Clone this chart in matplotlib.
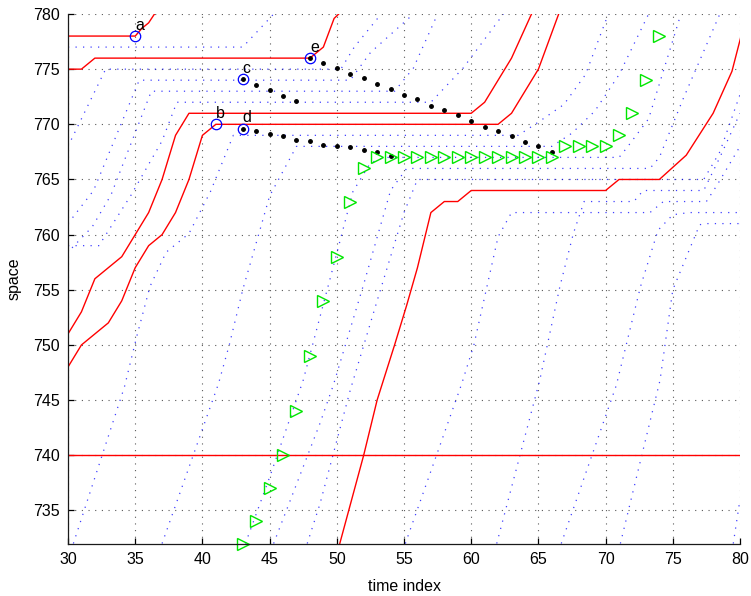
import matplotlib
matplotlib.use('Agg')
import matplotlib.pyplot as plt

plt.rcParams['font.family'] = ['Liberation Sans', 'DejaVu Sans']
plt.rcParams['font.size'] = 11.5

# ---- red trajectories (time, space) ----
red_a_t = [30, 35, 35.5, 36, 36.6]
red_a_s = [778, 778, 778.7, 779.2, 780.3]
red_e_t = [30, 31, 32, 48, 49, 49.8, 50.4]
red_e_s = [775, 775, 776, 776, 777, 779.6, 780.3]
red_b1_t = [30, 31, 32, 34, 36, 37, 38, 39, 60, 61, 63, 64.6]
red_b1_s = [751, 753, 756, 758, 762, 765, 769, 771, 771, 772, 776, 780.3]
red_b2_t = [30, 31, 33, 34, 35, 36, 37, 38, 39, 40, 41, 62, 63, 65, 66.6]
red_b2_s = [748, 750, 752, 754, 757, 759, 760, 762, 765, 769, 770, 770, 771, 775, 780.3]
red_low_t = [50.0, 52, 53, 54.3, 55.2, 56, 57, 58, 59, 60, 70, 71, 74, 76, 78, 79.4, 80.1]
red_low_s = [731, 740, 745, 750, 753.6, 757, 762, 763, 763, 764, 764, 765, 765, 767.2, 771, 774.8, 778.1]
red_flat_t = [30, 80]
red_flat_s = [740, 740]

# ---- blue dotted trajectories ----
blue_tracks = [
    ([30, 43, 44, 45.3], [777, 777, 778.3, 780]),
    ([30, 31, 32.8, 50.3, 51.3, 53.3], [768, 770.5, 775, 775, 777, 780]),
    ([30, 31.9, 35.3, 51, 52.5, 55.7], [761, 764, 774, 774, 776.5, 780]),
    ([30.3, 31.8, 33.2, 36.2, 54.3, 55.7, 57.5], [758.8, 760.7, 763.6, 773, 773, 775.1, 780]),
    ([30, 32.3, 34.7, 37, 38.1, 57, 59.4, 62.4], [759, 759, 763.6, 768.5, 772, 772, 775.1, 780]),
    ([30.4, 34.2, 35.1, 36.1, 37.3, 39, 40.6, 42.3, 63.5, 65, 66.9, 68.5, 70.2],
     [732, 746.2, 750.7, 755.3, 758.4, 760.1, 763.9, 769, 769, 770.2, 771.8, 774.5, 780]),
    ([37, 41.2, 42, 43, 44.3, 45, 47, 66, 67.5, 69.2, 71, 73.2],
     [732, 746.5, 750, 755, 760.5, 763.5, 768, 768, 769.2, 771.2, 774.5, 780]),
    ([43.2, 45, 47.5, 49.5, 51.2, 52.5, 53.5, 71, 71.6, 73.2, 75, 75.6],
     [732, 738, 746.8, 756, 763.9, 766.5, 767, 767, 767.9, 770.5, 777.6, 780]),
    ([45.3, 48.75, 49.74, 52, 54, 55.2, 73.3, 74, 75.8, 78.5],
     [732, 742.9, 746.35, 755.5, 764, 766, 766, 767, 772.4, 780]),
    ([47.8, 48.75, 51, 53, 55, 56, 77.3, 78.5, 80], [732, 735.6, 745.9, 754, 762, 765, 765, 767.5, 772.7]),
    ([55.1, 59.3, 60.2, 62, 63, 73.3, 74.3, 77.5, 78.3, 80],
     [732, 746.5, 750, 759.8, 762, 762, 763, 763, 764.5, 768]),
    ([61.9, 65.1, 66.6, 67.6, 68.4, 72.1, 72.8, 77.3, 78.5, 80],
     [732, 746.8, 755.3, 760.1, 763, 763, 764, 764, 767, 771]),
    ([66.7, 70.8, 72.6, 73.9, 75, 76.2, 80], [732, 746.35, 755.3, 760.4, 761.8, 762, 762]),
    ([71.1, 74.05, 75, 77, 77.5, 80], [732, 746.8, 755, 760.9, 761, 761]),
    ([79.5, 80], [732, 736]),
]

# ---- black dot series ----
dots_c_t = [43, 44, 45, 46, 47]
dots_c_s = [774.1, 773.6, 773.1, 772.6, 772.1]
dots_d_t = [43, 44, 45, 46, 47, 48, 49, 50, 51, 52, 53, 54]
dots_d_s = [769.6, 769.4, 769.1, 768.9, 768.6, 768.45, 768.1, 768.05, 767.95, 767.7, 767.5, 767.15]
dots_e_t = [48, 49, 50, 51, 52, 53, 54, 55, 56, 57, 58, 59, 60, 61, 62, 63, 64, 65, 66]
dots_e_s = [776.0, 775.6, 775.1, 774.6, 774.2, 773.65, 773.2, 772.7, 772.3, 771.7, 771.3, 770.8,
            770.3, 769.8, 769.4, 768.9, 768.4, 768.0, 767.5]

# ---- green triangles ----
tri_t = [43, 44, 45, 46, 47, 48, 49, 50, 51, 52, 53, 54, 55, 56, 57, 58, 59, 60, 61, 62, 63,
         64, 65, 66, 67, 68, 69, 70, 71, 72, 73, 74]
tri_s = [732, 734, 737, 740, 744, 749, 754, 758, 763, 766, 767, 767, 767, 767, 767, 767, 767,
         767, 767, 767, 767, 767, 767, 767, 768, 768, 768, 768, 769, 771, 774, 778]

# ---- labelled points ----
pt_labels = ['a', 'b', 'c', 'd', 'e']
pt_t = [35, 41, 43, 43, 48]
pt_s = [778, 770, 774.1, 769.6, 776]

fig = plt.figure(figsize=(7.51, 5.96), dpi=100)
ax = fig.add_axes([68 / 751, 1 - 543.5 / 596, 672 / 751, 529.5 / 596])

dotted = (0, (1, 5))
for t, s in blue_tracks:
    ax.plot(t, s, color='blue', lw=0.9, linestyle=dotted, alpha=0.75)

for t, s in [(red_a_t, red_a_s), (red_e_t, red_e_s), (red_b1_t, red_b1_s),
             (red_b2_t, red_b2_s), (red_low_t, red_low_s), (red_flat_t, red_flat_s)]:
    ax.plot(t, s, color='red', lw=1.0)

ax.plot(dots_c_t, dots_c_s, 'k.', ms=5, clip_on=False)
ax.plot(dots_d_t, dots_d_s, 'k.', ms=5, clip_on=False)
ax.plot(dots_e_t, dots_e_s, 'k.', ms=5, clip_on=False)

ax.plot(tri_t, tri_s, linestyle='none', marker='>', ms=8.5, mfc='none',
        mec='#00e600', mew=1.0, clip_on=False)

ax.plot(pt_t, pt_s, linestyle='none', marker='o', ms=7.5, mfc='none',
        mec='blue', mew=0.9, clip_on=False)
for lab, t, s in zip(pt_labels, pt_t, pt_s):
    ax.text(t, s + 1, lab, ha='left', va='center', fontsize=11.5)

ax.set_xlim(30, 80)
ax.set_ylim(732, 780)
ax.set_xticks(range(30, 81, 5))
ax.set_yticks(range(735, 781, 5))
ax.grid(True, color='0.35', linestyle=dotted, lw=0.8)
ax.set_axisbelow(True)

for side in ['top', 'right']:
    ax.spines[side].set_visible(False)
for side in ['left', 'bottom']:
    ax.spines[side].set_color('0.1')
    ax.spines[side].set_linewidth(0.9)
ax.tick_params(direction='in', length=4, width=0.9, labelsize=11.5, pad=6)

ax.set_xlabel('time index', fontsize=11.5, labelpad=9)
ax.set_ylabel('space', fontsize=11.5, labelpad=8)

fig.savefig('out.png', dpi=100)
